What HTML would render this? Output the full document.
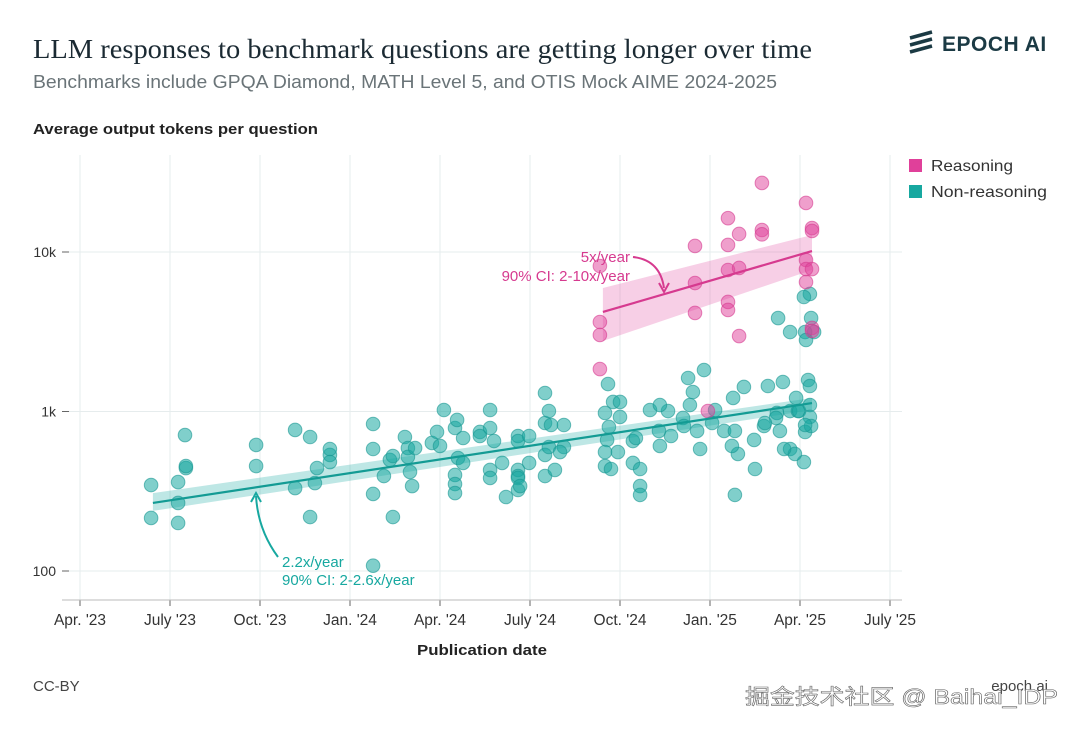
<!DOCTYPE html>
<html><head><meta charset="utf-8"><style>
body{margin:0;width:1080px;height:731px;background:#fff;overflow:hidden;font-family:"Liberation Sans",sans-serif}
svg{display:block}
</style></head><body>
<svg id="chart" width="1080" height="731">
<text x="33" y="58" font-family="Liberation Serif,serif" font-size="27" fill="#1b2a33" textLength="779" lengthAdjust="spacingAndGlyphs">LLM responses to benchmark questions are getting longer over time</text>
<text x="33" y="88" font-size="18" fill="#6a7478" textLength="744" lengthAdjust="spacingAndGlyphs">Benchmarks include GPQA Diamond, MATH Level 5, and OTIS Mock AIME 2024-2025</text>
<g>
<path d="M910 38 l22 -6 M910 45 l22 -6 M910 52 l22 -6" stroke="#1b3a44" stroke-width="3.5"/>
<text x="942" y="51" font-size="21" font-weight="bold" fill="#1b3a44" letter-spacing="0.5">EPOCH AI</text>
</g>
<text x="33" y="134" font-size="15" font-weight="bold" fill="#222" textLength="285" lengthAdjust="spacingAndGlyphs">Average output tokens per question</text>
<text x="417" y="655" font-size="15" font-weight="bold" fill="#222" textLength="130" lengthAdjust="spacingAndGlyphs">Publication date</text>
<text x="33" y="691" font-size="15" fill="#444">CC-BY</text>
<text x="1048" y="691" font-size="15" fill="#444" text-anchor="end">epoch.ai</text>
<g>
<rect x="909" y="159" width="13" height="13" fill="#e0409a"/>
<text x="931" y="171" font-size="16" fill="#333" textLength="82" lengthAdjust="spacingAndGlyphs">Reasoning</text>
<rect x="909" y="185" width="13" height="13" fill="#17a8a0"/>
<text x="931" y="197" font-size="16" fill="#333" textLength="116" lengthAdjust="spacingAndGlyphs">Non-reasoning</text>
</g>
<g id="grid"></g><g id="bands"></g><g id="pts"></g><g id="lines"></g>
<g>
<text x="630" y="262" font-size="15" fill="#d63a8f" text-anchor="end">5x/year</text>
<text x="630" y="281" font-size="15" fill="#d63a8f" text-anchor="end">90% CI: 2-10x/year</text>
<path d="M633 257 Q660 260 664 288" fill="none" stroke="#d63a8f" stroke-width="2"/>
<path d="M659 283 L664 292 L669 283" fill="none" stroke="#d63a8f" stroke-width="2"/>
<text x="282" y="567" font-size="15" fill="#17a8a0">2.2x/year</text>
<text x="282" y="585" font-size="15" fill="#17a8a0">90% CI: 2-2.6x/year</text>
<path d="M278 557 Q258 530 256 496" fill="none" stroke="#17a8a0" stroke-width="2"/>
<path d="M251 502 L256 493 L261 502" fill="none" stroke="#17a8a0" stroke-width="2"/>
</g>
<text x="745" y="704" font-family="Liberation Sans,'Noto Sans CJK SC',sans-serif" font-size="21" fill="#fff" stroke="#666" stroke-width="0.6" textLength="313" lengthAdjust="spacingAndGlyphs">掘金技术社区 @ Baihai_IDP</text>
</svg>
<script>
const xTickLabels=["Apr. '23","July '23","Oct. '23","Jan. '24","Apr. '24","July '24","Oct. '24","Jan. '25","Apr. '25","July '25"];
const yTickValues=[100,1000,10000];
const yTickLabels=["100","1k","10k"];
const nonReasoningMonths=[2.37,2.37,3.27,3.27,3.27,3.53,3.53,3.5,5.87,5.87,7.17,7.17,7.67,7.67,7.83,7.9,8.33,8.33,8.33,9.77,9.77,9.77,9.77,10.13,10.33,10.43,10.43,10.83,10.93,10.93,11,11.07,11.17,11.73,11.9,12,12.13,12.5,12.5,12.5,12.5,12.57,12.6,12.77,12.77,13.33,13.33,13.67,13.67,13.8,13.67,13.67,14.07,14.2,14.6,14.6,14.6,14.6,14.6,14.6,14.67,14.97,14.97,15.5,15.5,15.5,15.5,15.63,15.63,15.7,16.13,16.13,17.6,17.5,17.57,17.5,17.5,17.63,17.7,17.77,18,18,18.43,18.43,18.53,18.67,18.67,19,19.3,19.33,19.6,19.7,20.1,20.13,20.27,20.33,20.43,20.57,20.67,20.8,21.07,21.17,21.47,21.93,22.13,22.47,22.8,22.93,23.23,23.2,23.43,23.67,23.67,23.87,23.93,24.17,24.13,24.47,23.97,24.27,24.33,24.33,24.33,24.37,23.83,23.33,23.47,21.83,21.83,21.77,21.73,22.83,22.5,19.33,18.67,17.93,15.83,16,24.17,24.33,24.13,24.37,23.27,23.67,24.17,24.2];
const nonReasoningTokens=[346,215,361,267,200,442,455,712,617,455,766,331,692,218,356,442,534,582,482,835,582,304,108,394,497,218,526,692,590,519,418,341,590,635,744,608,1022,788,400,351,308,885,511,682,476,744,702,1022,788,653,430,383,476,291,702,653,430,394,383,322,341,702,476,1306,847,534,394,1007,599,823,599,823,1487,979,663,455,557,800,436,1148,924,1148,653,476,682,341,300,1022,755,608,1007,702,911,811,1622,1098,1325,755,582,1820,847,1022,755,542,1425,663,811,1445,979,911,1531,1007,582,1216,1007,744,482,3150,1007,1576,1445,1098,924,811,542,755,582,755,300,1216,608,847,436,1098,436,557,430,557,823,5455,5223,3855,3855,3150,3150,2807,2536];
const reasoningMonths=[22.73,24.2,21.6,21.97,22.73,22.73,24.4,24.4,21.6,20.5,17.33,24.2,24.2,24.4,24.2,21.6,21.97,20.5,21.6,21.6,20.5,21.97,17.33,17.33,24.4,24.4,17.33,20.93];
const reasoningTokens=[27100,20300,16300,12970,13740,12900,14130,13550,11070,10910,8170,8910,7820,7820,6480,7710,7940,6390,4860,4330,4150,2972,3640,3020,3340,3200,1846,1007];
const nonReasoningFit=[2.43,267,24.4,1130];
const nonReasoningBand=[2.43,238,308,24.4,1022,1216];
const reasoningFit=[17.43,4206,24.4,10140];
const reasoningBand=[17.43,2767,5950,24.4,7710,12790];
const NS="http://www.w3.org/2000/svg";
const X0=80,PXM=30,Y100=571,PXD=159.5;
function xs(m){return X0+m*PXM;}
function ys(v){return Y100-(Math.log10(v)-2)*PXD;}
function mk(tag,attrs,parent){const e=document.createElementNS(NS,tag);for(const k in attrs)e.setAttribute(k,attrs[k]);document.getElementById(parent).appendChild(e);return e;}
xTickLabels.forEach((l,i)=>{const x=xs(i*3);
const g=mk('line',{x1:x,x2:x,y1:155,y2:600,stroke:'#e6eced','stroke-width':1},'grid');


const t=mk('line',{x1:x,x2:x,y1:600,y2:606,stroke:'#666','stroke-width':1},'grid');


const tx=mk('text',{x:x,y:625,'font-size':15.5,fill:'#333','text-anchor':'middle'},'grid');tx.textContent=l;


});
yTickValues.forEach((v,i)=>{const y=ys(v);
const g=mk('line',{x1:62,x2:902,y1:y,y2:y,stroke:'#e6eced','stroke-width':1},'grid');


const t=mk('line',{x1:62,x2:69,y1:y,y2:y,stroke:'#666','stroke-width':1},'grid');


const tx=mk('text',{x:56,y:y+5,'font-size':14,fill:'#333','text-anchor':'end'},'grid');tx.textContent=yTickLabels[i];


});
const ax=mk('line',{x1:62,x2:902,y1:600,y2:600,stroke:'#bbb','stroke-width':1},'grid');


function band(b,fill,name){const p=`M${xs(b[0])},${ys(b[2])} L${xs(b[3])},${ys(b[5])} L${xs(b[3])},${ys(b[4])} L${xs(b[0])},${ys(b[1])}Z`;
const e=mk('path',{d:p,fill:fill},'bands');

}
band(nonReasoningBand,'rgba(23,168,160,0.28)','non-reasoning-ci-band');
band(reasoningBand,'rgba(224,64,154,0.25)','reasoning-ci-band');
nonReasoningMonths.forEach((m,i)=>{const c=mk('circle',{cx:xs(m),cy:ys(nonReasoningTokens[i]),r:6.8,fill:'rgba(23,168,160,0.55)',stroke:'rgba(23,150,145,0.6)','stroke-width':1},'pts');

});
reasoningMonths.forEach((m,i)=>{const c=mk('circle',{cx:xs(m),cy:ys(reasoningTokens[i]),r:6.8,fill:'rgba(224,64,154,0.5)',stroke:'rgba(214,58,143,0.6)','stroke-width':1},'pts');

});
function fit(f,col,name){const l=mk('line',{x1:xs(f[0]),y1:ys(f[1]),x2:xs(f[2]),y2:ys(f[3]),stroke:col,'stroke-width':2.2},'lines');

}
fit(nonReasoningFit,'#139b94','non-reasoning-trend-line');
fit(reasoningFit,'#d63a8f','reasoning-trend-line');
</script>
</body></html>
